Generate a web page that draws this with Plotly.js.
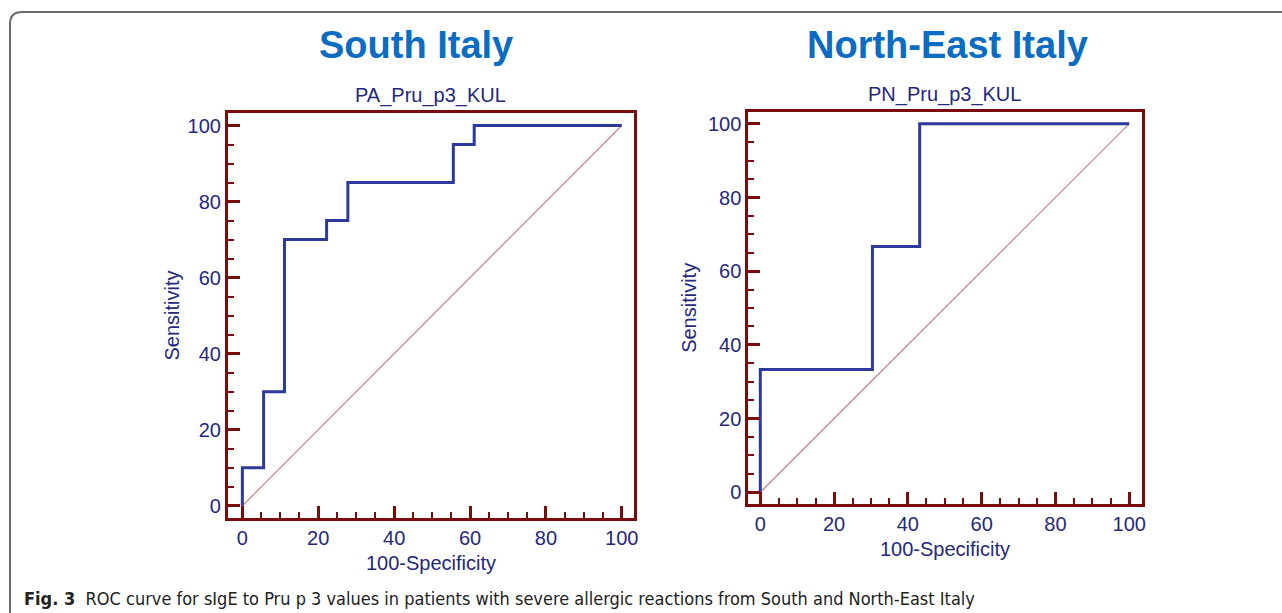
<!DOCTYPE html>
<html>
<head>
<meta charset="utf-8">
<script src="https://cdn.plot.ly/plotly-3.0.1.min.js"></script>
<style>html,body{margin:0;padding:0;background:#fff;}#chart{width:1282px;height:613px;}</style>
</head>
<body>
<div id="chart"></div>
<script>
// South Italy ROC (PA_Pru_p3_KUL)
const southFPR = [0, 0, 5.6, 5.6, 11.1, 11.1, 22.2, 22.2, 27.8, 27.8, 55.6, 55.6, 61.1, 61.1, 100];
const southTPR = [0, 10, 10, 30, 30, 70, 70, 75, 75, 85, 85, 95, 95, 100, 100];
// North-East Italy ROC (PN_Pru_p3_KUL)
const northFPR = [0, 0, 30.4, 30.4, 43.2, 43.2, 100];
const northTPR = [0, 33.3, 33.3, 66.7, 66.7, 100, 100];
// reference diagonal
const diagX = [0, 100];
const diagY = [0, 100];
const tickVals = [0, 20, 40, 60, 80, 100];

const curveColor = '#2d3a9c';
const diagColor = '#c08c8c';
const frameColor = '#7a0c0c';
const labelColor = '#26287c';
const sans = 'Liberation Sans, Arial, sans-serif';

const traces = [
  {x: diagX, y: diagY, mode: 'lines', line: {color: diagColor, width: 1.3}, xaxis: 'x', yaxis: 'y', hoverinfo: 'skip'},
  {x: southFPR, y: southTPR, mode: 'lines', line: {color: curveColor, width: 3}, xaxis: 'x', yaxis: 'y'},
  {x: diagX, y: diagY, mode: 'lines', line: {color: diagColor, width: 1.3}, xaxis: 'x2', yaxis: 'y2', hoverinfo: 'skip'},
  {x: northFPR, y: northTPR, mode: 'lines', line: {color: curveColor, width: 3}, xaxis: 'x2', yaxis: 'y2'}
];

function axis(range, domain, anchor, titleText, standoff) {
  return {
    range: range, domain: domain, anchor: anchor,
    showline: true, mirror: true, linecolor: frameColor, linewidth: 3,
    showgrid: false, zeroline: false,
    ticks: 'inside', ticklen: 12, tickwidth: 3, tickcolor: frameColor,
    tickvals: tickVals,
    minor: {ticks: 'inside', ticklen: 6, tickwidth: 2, tickcolor: frameColor, dtick: 5, tick0: 0},
    tickfont: {family: sans, size: 20, color: labelColor},
    title: {text: titleText, standoff: standoff, font: {family: sans, size: 20, color: labelColor}}
  };
}

const layout = {
  width: 1282, height: 613,
  margin: {l: 0, r: 0, t: 0, b: 0},
  paper_bgcolor: '#ffffff', plot_bgcolor: '#ffffff',
  showlegend: false,
  xaxis: axis([-3.8, 103.2], [0.1778, 0.4945], 'y', '100-Specificity', 9),
  yaxis: axis([-3.2, 103.3], [0.155, 0.8157], 'x', 'Sensitivity', 3),
  xaxis2: axis([-3.25, 103.4], [0.5837, 0.8906], 'y2', '100-Specificity', 8),
  yaxis2: axis([-3.2, 103.3], [0.1778, 0.8178], 'x2', 'Sensitivity', 6),
  annotations: [
    {text: '<b>South Italy</b>', x: 416/1282, y: 1 - 45/613, xref: 'paper', yref: 'paper', showarrow: false, xanchor: 'center', yanchor: 'middle',
     font: {family: sans, size: 38, color: '#0b6cc3'}},
    {text: '<b>North-East Italy</b>', x: 947/1282, y: 1 - 45/613, xref: 'paper', yref: 'paper', showarrow: false, xanchor: 'center', yanchor: 'middle',
     font: {family: sans, size: 38, color: '#0b6cc3'}},
    {text: 'PA_Pru_p3_KUL', x: 431/1282, y: 1 - 96/613, xref: 'paper', yref: 'paper', showarrow: false, xanchor: 'center', yanchor: 'middle',
     font: {family: sans, size: 20, color: labelColor}},
    {text: 'PN_Pru_p3_KUL', x: 945/1282, y: 1 - 95/613, xref: 'paper', yref: 'paper', showarrow: false, xanchor: 'center', yanchor: 'middle',
     font: {family: sans, size: 20, color: labelColor}},
    {text: '<b>Fig. 3</b>  ROC curve for sIgE to Pru p 3 values in patients with severe allergic reactions from South and North-East Italy',
     x: 22/1282, y: 1 - 598/613, xref: 'paper', yref: 'paper', showarrow: false, xanchor: 'left', yanchor: 'middle',
     font: {family: 'DejaVu Sans Condensed, Open Sans, sans-serif', size: 18, color: '#222222'}}
  ],
  shapes: [
    {type: 'path', xref: 'paper', yref: 'paper',
     path: 'M 1.01 ' + (1 - 12/613) + ' L ' + (22/1282) + ' ' + (1 - 12/613) + ' Q ' + (10/1282) + ' ' + (1 - 12/613) + ' ' + (10/1282) + ' ' + (1 - 24/613) + ' L ' + (10/1282) + ' -0.01',
     line: {color: '#6b6b6b', width: 2}}
  ]
};

Plotly.newPlot('chart', traces, layout, {displayModeBar: false, staticPlot: true});
</script>
</body>
</html>
